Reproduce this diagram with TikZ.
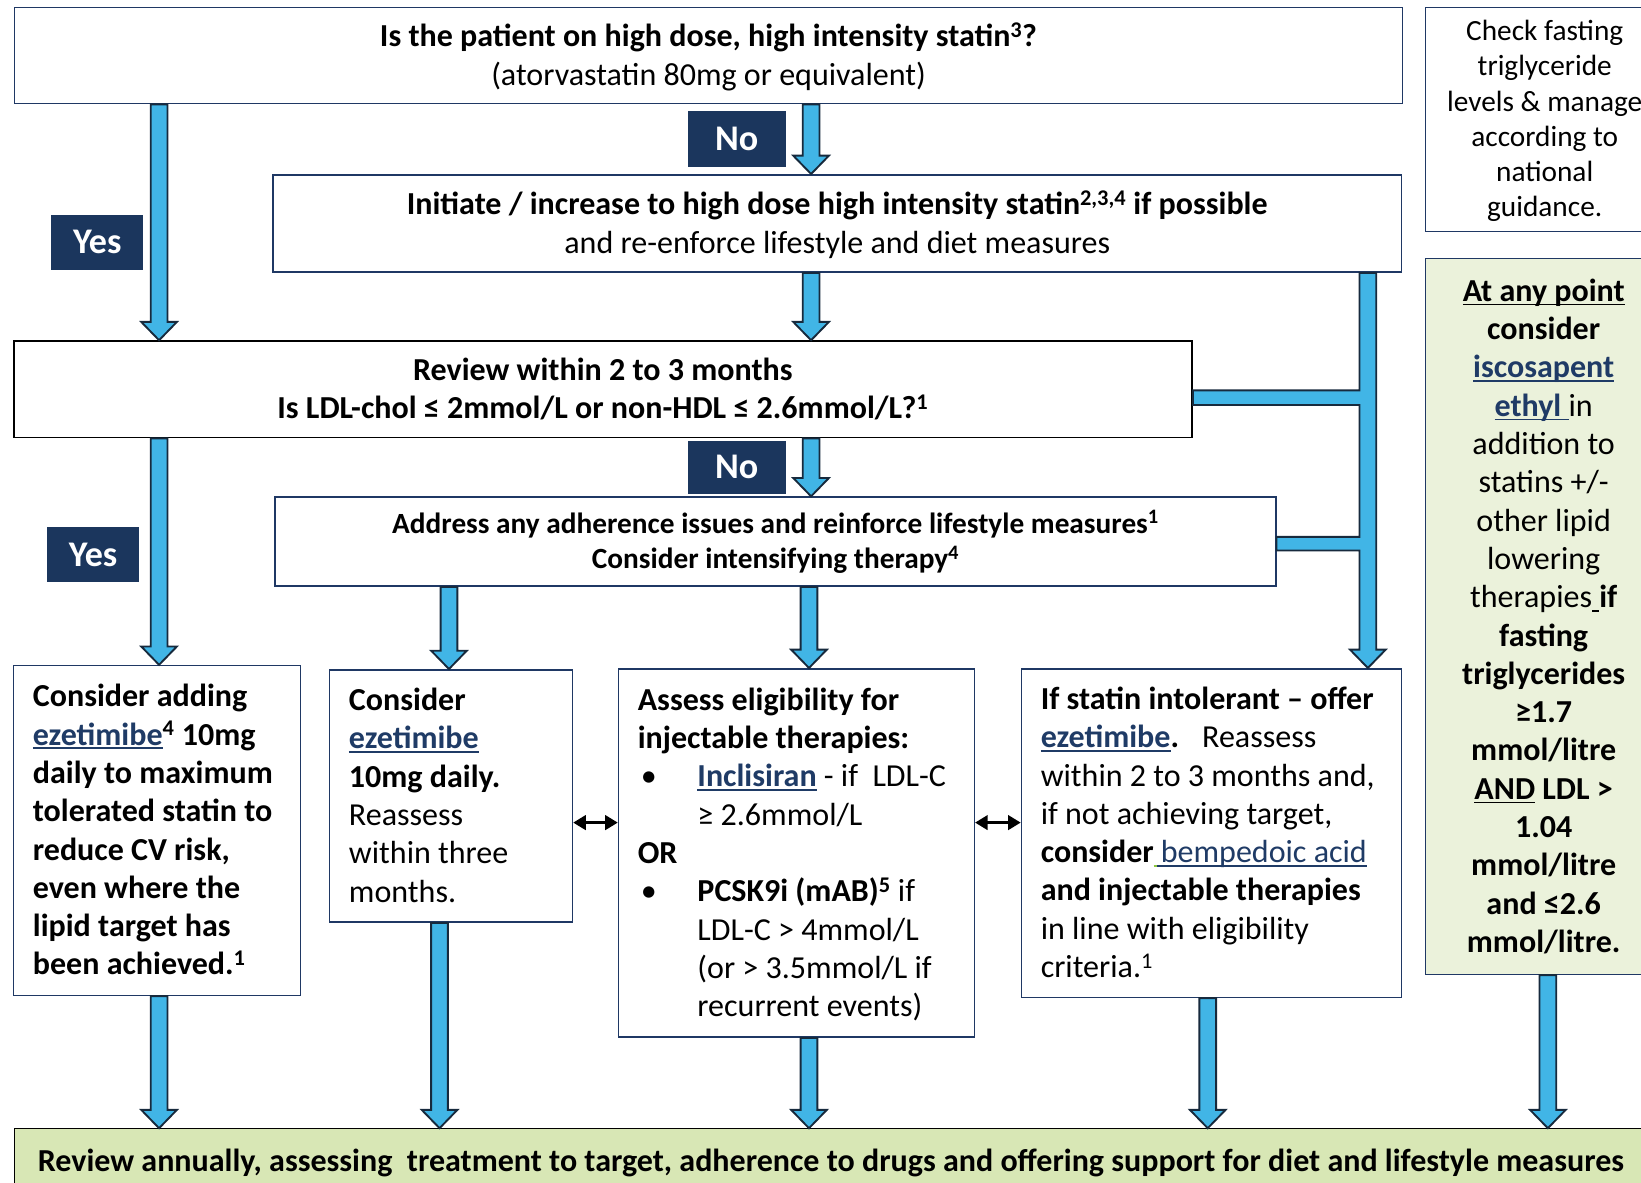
\documentclass[tikz,border=0pt]{standalone}
\usepackage{fontspec}
\setmainfont{Carlito}
\usetikzlibrary{calc,arrows.meta}
\definecolor{navy}{HTML}{1B365D}
\definecolor{boxline}{HTML}{1F3864}
\definecolor{arrfill}{HTML}{41B5E6}
\definecolor{arrline}{HTML}{172A3D}
\definecolor{lnkc}{HTML}{1F3B66}
\definecolor{greenK}{HTML}{D8E7B5}
\definecolor{greenJ}{HTML}{EBF2DB}
\definecolor{spellgreen}{HTML}{8DC63F}
\newsavebox\ulbox
\newcommand\ulx[1]{\sbox\ulbox{#1}\rlap{\rule[-3.8pt]{\wd\ulbox}{1.6pt}}\usebox\ulbox}
\newcommand\lnk[1]{\textcolor{lnkc}{\ulx{#1}}}
% first-line (height) and last-line (depth) struts
\newcommand\stA{\rule{0pt}{28.3pt}}
\newcommand\sbA{\rule[-8.3pt]{0pt}{8.3pt}}
\newcommand\stD{\rule{0pt}{26pt}}
\newcommand\sbD{\rule[-8pt]{0pt}{8pt}}
\newcommand\stI{\rule{0pt}{25.85pt}}
\newcommand\sbI{\rule[-7.85pt]{0pt}{7.85pt}}
\newcommand\bul{\makebox[57pt][l]{\hspace{3pt}•}}
\newcommand\ind{\hspace*{57pt}}
\newcommand\blockarr[2]{\draw[arrowshape] let \p1=(#1), \p2=(#2) in (\x1-8pt,\y1) -- (\x1+8pt,\y1) -- (\x1+8pt,\y2+17.5pt) -- (\x1+17pt,\y2+17.5pt) -- (\x1,\y2) -- (\x1-17pt,\y2+17.5pt) -- (\x1-8pt,\y2+17.5pt) -- cycle;}
\tikzset{
  box/.style={draw=boxline, line width=1.5pt, fill=white, inner sep=0pt, align=center},
  t30/.style={font=\fontsize{30.6}{36.6}\selectfont},
  t28/.style={font=\fontsize{28}{34}\selectfont},
  t28i/.style={font=\fontsize{28}{33.7}\selectfont},
  txt/.style={inner sep=0pt, align=left, anchor=west},
  lab/.style={fill=navy, text=white, font=\fontsize{34.5}{40}\selectfont\bfseries, text height=22.2pt, text depth=0pt, inner sep=0pt},
  arrowshape/.style={fill=arrfill, draw=arrline, line width=1.8pt, line join=miter},
  dbl/.style={{Triangle[length=12pt,width=14pt]}-{Triangle[length=12pt,width=14pt]}, line width=2.2pt, black}
}
\begin{document}
\begin{tikzpicture}[x=1pt,y=-1pt]
\useasboundingbox (0,0) rectangle (1568,1130);
\clip (0,0) rectangle (1568,1130);
\coordinate (lx) at (152,0);
\coordinate (mx) at (775,0);
\coordinate (gx) at (773,0);
\coordinate (fx1) at (429,0);
\coordinate (fx2) at (420,0);
\coordinate (hx) at (1154,0);
\coordinate (jx) at (1479,0);
\coordinate (rb) at (1307,0);
\coordinate (dy) at (0,786);

% main boxes
\node[box, t30, minimum width=1326pt, minimum height=92pt] (A) at (677,53)
  {\stA\textbf{Is the patient on high dose, high intensity statin\textsuperscript{3}?}\\(atorvastatin 80mg or equivalent)\sbA};
\node[box, t30, minimum width=1078pt, minimum height=93pt] (B) at (800,213.5)
  {\stA\textbf{Initiate / increase to high dose high intensity statin\textsuperscript{2,3,4} if possible}\\and re-enforce lifestyle and diet measures\sbA};
\node[box, t30, draw=black, line width=1.8pt, minimum width=1126pt, minimum height=92pt] (C) at (576,372)
  {\stA\textbf{Review within 2 to 3 months}\\\textbf{Is LDL-chol ≤ 2mmol/L or non-HDL ≤ 2.6mmol/L?\textsuperscript{1}}\sbA};
\node[box, t28, minimum width=956pt, minimum height=85pt] (D) at (741,517.5)
  {\stD\textbf{Address any adherence issues and reinforce lifestyle measures\textsuperscript{1}}\\\textbf{Consider intensifying therapy\textsuperscript{4}}\sbD};

% bottom row boxes
\node[box, minimum width=274pt, minimum height=315pt] (E) at (150,793.5) {};
\node[txt, t30] (Et) at ([xshift=19pt]E.west)
  {\stA\textbf{Consider adding}\\
   \textbf{\lnk{ezetimibe}\textsuperscript{4} 10mg}\\
   \textbf{daily to maximum}\\
   \textbf{tolerated statin to}\\
   \textbf{reduce CV risk,}\\
   \textbf{even where the}\\
   \textbf{lipid target has}\\
   \textbf{been achieved.\textsuperscript{1}}\sbA};
\node[box, minimum width=232pt, minimum height=241pt] (F) at (431,760.5) {};
\node[txt, t30] (Ft) at ([xshift=19pt]F.west)
  {\stA\textbf{Consider}\\
   \textbf{\lnk{ezetimibe}}\\
   \textbf{10mg daily.}\\
   Reassess\\
   within three\\
   months.\sbA};
\node[box, minimum width=340pt, minimum height=352pt] (G) at (761,815) {};
\node[txt, t30] (Gt) at ([xshift=19pt]G.west)
  {\stA\textbf{Assess eligibility for}\\
   \textbf{injectable therapies:}\\
   \bul\textbf{\lnk{Inclisiran}} - if\ \ LDL-C\\
   \ind{}≥ 2.6mmol/L\\
   \textbf{OR}\\
   \bul\textbf{PCSK9i (mAB)\textsuperscript{5}} if\\
   \ind{}LDL-C > 4mmol/L\\
   \ind{}(or > 3.5mmol/L if\\
   \ind{}recurrent events)\sbA};
\node[box, minimum width=363pt, minimum height=314pt] (H) at (1157.5,796) {};
\node[txt, t30] (Ht) at ([xshift=19pt]H.west)
  {\stA\textbf{If statin intolerant – offer}\\
   \textbf{\lnk{ezetimibe}.}\hspace{22pt}Reassess\\
   within 2 to 3 months and,\\
   if not achieving target,\\
   \textbf{consider}\textcolor{spellgreen}{\ulx{\hspace{3pt}}}\lnk{\hspace{3.8pt}bempedoic acid}\\
   \textbf{and injectable therapies}\\
   in line with eligibility\\
   criteria.\textsuperscript{1}\sbA};

% right column
\node[box, t28i, minimum width=228pt, minimum height=214pt] (I) at (1476,114)
  {\stI Check fasting\\triglyceride\\levels \& manage\\according to\\national\\guidance.\sbI};
\node[box, t30, fill=greenJ, minimum width=226pt, minimum height=684pt] (J) at (1475,589)
  {\stA\textbf{\ulx{At any point}}\\
   \textbf{consider}\\
   \textbf{\lnk{iscosapent}}\\
   \lnk{\textbf{ethyl}\ }in\\
   addition to\\
   statins +/-\\
   other lipid\\
   lowering\\
   therapies\ulx{\ }\textbf{if}\\
   \textbf{fasting}\\
   \textbf{triglycerides}\\
   \textbf{≥1.7}\\
   \textbf{mmol/litre}\\
   \textbf{\ulx{AND} LDL >}\\
   \textbf{1.04}\\
   \textbf{mmol/litre}\\
   \textbf{and ≤2.6}\\
   \textbf{mmol/litre.}\sbA};

% bottom bar
\node[draw=black, line width=1.2pt, fill=greenK, minimum width=1600pt, minimum height=62pt, inner sep=0pt, anchor=north west] (K) at (13,1078) {};
\node[txt, t30] (Kt) at ([xshift=23pt]K.west)
  {\stA\textbf{Review annually, assessing\ \ treatment to target, adherence to drugs and offering support for diet and lifestyle measures}\sbA};

% labels
\node[lab, minimum width=94pt, minimum height=54pt] (No1) at (704,133) {No};
\node[lab, minimum width=94pt, minimum height=51pt] (No2) at (704,446.5) {No};
\node[lab, minimum width=88pt, minimum height=53pt] (Yes1) at (93,231.5) {Yes};
\node[lab, minimum width=88pt, minimum height=52pt] (Yes2) at (89,530) {Yes};

% block arrows
\blockarr{A.south -| lx}{C.north -| lx}
\blockarr{A.south -| mx}{B.north -| mx}
\blockarr{B.south -| mx}{C.north -| mx}
\blockarr{C.south -| lx}{E.north -| lx}
\blockarr{C.south -| mx}{D.north -| mx}
\blockarr{D.south -| fx1}{F.north -| fx1}
\blockarr{D.south -| gx}{G.north -| gx}
\blockarr{E.south -| lx}{K.north -| lx}
\blockarr{F.south -| fx2}{K.north -| fx2}
\blockarr{G.south -| gx}{K.north -| gx}
\blockarr{H.south -| hx}{K.north -| hx}
\blockarr{J.south -| jx}{K.north -| jx}

% right bar with two branches
\draw[arrowshape] let \p1=(B.south -| rb), \p2=(H.north -| rb), \p3=(C.east), \p4=(D.east) in
  (\x1-8pt,\y1) -- (\x1-8pt,\y3-1pt) -- (\x3,\y3-1pt) -- (\x3,\y3-15pt) -- (\x1-8pt,\y3-15pt)
  -- (\x1-8pt,\y4+4.5pt) -- (\x4,\y4+4.5pt) -- (\x4,\y4-8.5pt) -- (\x1-8pt,\y4-8.5pt)
  -- (\x1-8pt,\y2+17.5pt) -- (\x1-17pt,\y2+17.5pt) -- (\x1,\y2) -- (\x1+17pt,\y2+17.5pt)
  -- (\x1+8pt,\y2+17.5pt) -- (\x1+8pt,\y1) -- cycle;

% double arrows
\draw[dbl] (F.east |- dy) -- (G.west |- dy);
\draw[dbl] (G.east |- dy) -- (H.west |- dy);
\end{tikzpicture}
\end{document}
